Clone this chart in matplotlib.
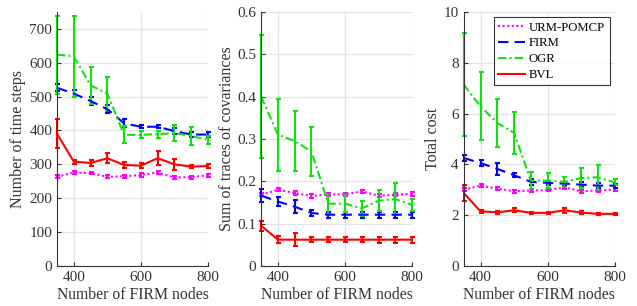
import matplotlib

matplotlib.use("Agg")
import matplotlib.pyplot as plt
from matplotlib.lines import Line2D

plt.rcParams["font.family"] = ["Liberation Serif", "DejaVu Serif"]

nodes = [350, 400, 450, 500, 550, 600, 650, 700, 750, 800]
methods = ["URM-POMCP", "FIRM", "OGR", "BVL"]

steps_mean = {
    "URM-POMCP": [263, 276, 274, 263, 265, 268, 276, 261, 262, 268],
    "FIRM": [526, 509, 487, 463, 421, 411, 411, 398, 388, 388],
    "OGR": [624, 619, 533, 509, 387, 387, 389, 392, 384, 372],
    "BVL": [390, 308, 304, 318, 298, 296, 318, 300, 293, 295],
}
steps_err = {
    "URM-POMCP": [4, 4, 4, 4, 4, 5, 4, 4, 4, 4],
    "FIRM": [10, 10, 12, 12, 12, 5, 4, 8, 6, 6],
    "OGR": [115, 120, 55, 49, 25, 10, 10, 24, 27, 12],
    "BVL": [43, 6, 8, 14, 8, 8, 20, 16, 4, 5],
}

cov_mean = {
    "URM-POMCP": [0.168, 0.180, 0.172, 0.165, 0.169, 0.169, 0.176, 0.166, 0.168, 0.170],
    "FIRM": [0.166, 0.152, 0.140, 0.125, 0.121, 0.121, 0.121, 0.121, 0.121, 0.121],
    "OGR": [0.400, 0.310, 0.295, 0.270, 0.147, 0.147, 0.136, 0.154, 0.158, 0.144],
    "BVL": [0.095, 0.062, 0.062, 0.062, 0.062, 0.062, 0.062, 0.062, 0.062, 0.062],
}
cov_err = {
    "URM-POMCP": [0.004, 0.004, 0.004, 0.004, 0.004, 0.004, 0.004, 0.004, 0.004, 0.004],
    "FIRM": [0.015, 0.010, 0.015, 0.006, 0.007, 0.007, 0.007, 0.007, 0.007, 0.007],
    "OGR": [0.145, 0.085, 0.070, 0.058, 0.024, 0.020, 0.017, 0.025, 0.037, 0.015],
    "BVL": [0.012, 0.008, 0.015, 0.006, 0.006, 0.006, 0.006, 0.007, 0.007, 0.007],
}

cost_mean = {
    "URM-POMCP": [3.00, 3.16, 3.04, 2.94, 2.97, 2.98, 3.09, 2.94, 2.97, 3.00],
    "FIRM": [4.25, 4.05, 3.82, 3.57, 3.31, 3.27, 3.24, 3.20, 3.16, 3.16],
    "OGR": [7.14, 6.28, 5.63, 5.24, 3.36, 3.36, 3.31, 3.46, 3.49, 3.29],
    "BVL": [2.87, 2.15, 2.11, 2.19, 2.09, 2.09, 2.19, 2.10, 2.05, 2.05],
}
cost_err = {
    "URM-POMCP": [0.05, 0.05, 0.05, 0.05, 0.05, 0.05, 0.05, 0.05, 0.05, 0.05],
    "FIRM": [0.12, 0.12, 0.25, 0.08, 0.12, 0.08, 0.08, 0.1, 0.1, 0.08],
    "OGR": [2.03, 1.34, 0.96, 0.82, 0.35, 0.30, 0.20, 0.40, 0.50, 0.12],
    "BVL": [0.30, 0.05, 0.05, 0.08, 0.05, 0.05, 0.1, 0.06, 0.03, 0.03],
}

STYLES = {
    "URM-POMCP": {"color": "#ff00ff", "linestyle": (0, (1, 1.2))},
    "FIRM": {"color": "#0000ff", "linestyle": (0, (5, 3))},
    "OGR": {"color": "#11e011", "linestyle": (0, (4, 1.5, 1, 1.5))},
    "BVL": {"color": "#ff0000", "linestyle": "-"},
}

panels = [
    (steps_mean, steps_err, "Number of time steps", (0, 750), range(0, 701, 100)),
    (cov_mean, cov_err, "Sum of traces of covariances", (0, 0.6), [0, 0.1, 0.2, 0.3, 0.4, 0.5, 0.6]),
    (cost_mean, cost_err, "Total cost", (0, 10), range(0, 11, 2)),
]
lefts = [0.0895, 0.410, 0.728]

fig = plt.figure(figsize=(6.37, 3.06), dpi=100)
for i, (means, errs, ylabel, ylim, yticks) in enumerate(panels):
    ax = fig.add_axes([lefts[i], 0.131, 0.237, 0.83])
    ax.set_axisbelow(True)
    ax.grid(True, color="#e3e3e3", linewidth=0.9)
    for name in methods:
        st = STYLES[name]
        cont = ax.errorbar(nodes, means[name], yerr=errs[name], color=st["color"],
                           linestyle=st["linestyle"], linewidth=1.5, elinewidth=1.5,
                           capsize=1.8, capthick=1.5)
        # keep the bars on the x-limits fully visible, like the original
        for art in cont.lines[1] + cont.lines[2]:
            art.set_clip_on(False)
    ax.set_xlim(350, 800)
    ax.set_ylim(*ylim)
    ax.set_xticks([400, 600, 800])
    ax.set_yticks(list(yticks))
    if i == 1:
        ax.set_yticklabels(["0", "0.1", "0.2", "0.3", "0.4", "0.5", "0.6"])
    for side in ("top", "right"):
        ax.spines[side].set_visible(False)
    for side in ("left", "bottom"):
        ax.spines[side].set_color("#333333")
        ax.spines[side].set_linewidth(0.8)
    ax.tick_params(direction="in", length=3, labelsize=11, colors="#333333")
    ax.set_xlabel("Number of FIRM nodes", fontsize=11.3, color="#333333", labelpad=2)
    ax.set_ylabel(ylabel, fontsize=11.5, color="#333333", labelpad=2)
    if i == 2:
        handles = [Line2D([], [], color=STYLES[n]["color"], linestyle=STYLES[n]["linestyle"],
                          linewidth=1.5) for n in methods]
        leg = ax.legend(handles, methods, loc="upper right", fontsize=9.2, frameon=True,
                        fancybox=False, edgecolor="black", handlelength=2.1,
                        handletextpad=0.3, borderpad=0.35, labelspacing=0.3,
                        borderaxespad=0.4)
        leg.get_frame().set_linewidth(0.8)

fig.savefig("out.png", dpi=100)
